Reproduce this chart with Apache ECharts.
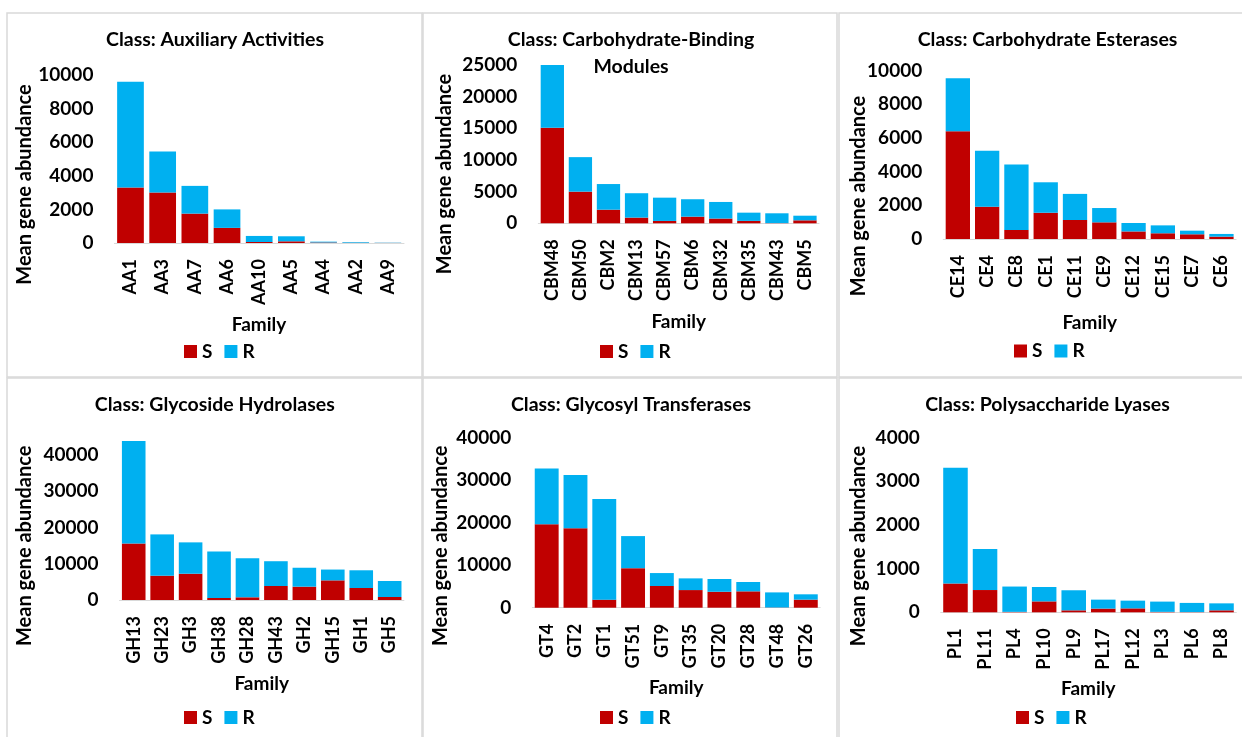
<!DOCTYPE html>
<html><head><meta charset="utf-8">
<script src="https://cdn.jsdelivr.net/npm/echarts@6/dist/echarts.min.js"></script>
<style>html,body{margin:0;padding:0;background:#fff}#c{width:1242px;height:737px}</style>
</head><body><div id="c"></div>
<script>
// ---- Data ----
const aaCats = ['AA1','AA3','AA7','AA6','AA10','AA5','AA4','AA2','AA9'];
const aaS = [3300, 3000, 1750, 900, 60, 100, 30, 10, 5];
const aaR = [6300, 2450, 1650, 1100, 360, 300, 50, 40, 15];

const cbmCats = ['CBM48','CBM50','CBM2','CBM13','CBM57','CBM6','CBM32','CBM35','CBM43','CBM5'];
const cbmS = [15100, 5000, 2150, 900, 370, 1050, 750, 380, 30, 470];
const cbmR = [9900, 5450, 4050, 3850, 3680, 2750, 2620, 1300, 1550, 730];

const ceCats = ['CE14','CE4','CE8','CE1','CE11','CE9','CE12','CE15','CE7','CE6'];
const ceS = [6400, 1920, 540, 1560, 1130, 990, 450, 340, 280, 140];
const ceR = [3150, 3330, 3880, 1810, 1550, 850, 500, 470, 215, 160];

const ghCats = ['GH13','GH23','GH3','GH38','GH28','GH43','GH2','GH15','GH1','GH5'];
const ghS = [15600, 6700, 7250, 550, 740, 3860, 3680, 5420, 3310, 830];
const ghR = [28300, 11400, 8650, 12850, 10760, 6840, 5220, 2980, 4890, 4420];

const gtCats = ['GT4','GT2','GT1','GT51','GT9','GT35','GT20','GT28','GT48','GT26'];
const gtS = [19650, 18700, 1900, 9300, 5100, 4150, 3750, 3850, 50, 1900];
const gtR = [13100, 12500, 23650, 7550, 3050, 2750, 3000, 2200, 3550, 1250];

const plCats = ['PL1','PL11','PL4','PL10','PL9','PL17','PL12','PL3','PL6','PL8'];
const plS = [660, 510, 10, 250, 45, 85, 90, 10, 5, 45];
const plR = [2650, 940, 580, 330, 460, 205, 177, 235, 210, 160];

const titles = ['Class: Auxiliary Activities', 'Class: Carbohydrate-Binding\nModules', 'Class: Carbohydrate Esterases',
  'Class: Glycoside Hydrolases', 'Class: Glycosyl Transferases', 'Class: Polysaccharide Lyases'];
const yMax = [10000, 25000, 10000, 45000, 40000, 4000];
const yStep = [2000, 5000, 2000, 10000, 10000, 1000];
const seriesNames = ['S', 'R'];
const xTitle = 'Family';
const yTitle = 'Mean gene abundance';

// ---- Layout ----
const FONT = 'Lato, "Open Sans", sans-serif';
const C_S = '#C00000', C_R = '#00B0F0';
const panels = [
  {cats: aaCats, S: aaS, R: aaR, g: {left: 114.4, width: 289.6, top: 75, height: 168},
   title: [215, 39.5], ytitle: [25, 184.5], family: [259, 325], legend: [184, 342]},
  {cats: cbmCats, S: cbmS, R: cbmR, g: {left: 538.3, width: 280.7, top: 65, height: 158.3},
   title: [631, 53], ytitle: [445, 174], family: [678.7, 321.7], legend: [600, 342]},
  {cats: ceCats, S: ceS, R: ceR, g: {left: 943.2, width: 292.9, top: 70.7, height: 168.3},
   title: [1047.5, 39.5], ytitle: [858.3, 196], family: [1089.7, 322.7], legend: [1014, 341.5]},
  {cats: ghCats, S: ghS, R: ghR, g: {left: 119.5, width: 284.4, top: 436.9, height: 163.1},
   title: [214.8, 405], ytitle: [25, 545.8], family: [261.7, 684.3], legend: [184, 708]},
  {cats: gtCats, S: gtS, R: gtR, g: {left: 532.3, width: 287.9, top: 437.7, height: 170},
   title: [631, 405], ytitle: [440.7, 545.8], family: [676.2, 687.7], legend: [600, 708]},
  {cats: plCats, S: plS, R: plR, g: {left: 940.7, width: 295.6, top: 437.7, height: 174.6},
   title: [1047.5, 405], ytitle: [858.3, 546], family: [1088.3, 689.3], legend: [1016, 708]}
];
const boxes = [
  [7, 13, 415, 364], [423, 13, 414, 364], [839, 13, 410, 364],
  [7, 378, 415, 370], [423, 378, 414, 370], [839, 378, 410, 370]
];

const grid = [], xAxis = [], yAxis = [], series = [], legend = [], graphic = [];
boxes.forEach(b => graphic.push({type: 'rect', z: 0, silent: true,
  shape: {x: b[0], y: b[1], width: b[2], height: b[3]},
  style: {fill: 'none', stroke: '#d9d9d9', lineWidth: 1.5}}));

panels.forEach((p, i) => {
  grid.push(Object.assign({containLabel: false}, p.g));
  xAxis.push({type: 'category', gridIndex: i, data: p.cats,
    axisLine: {show: true, lineStyle: {color: '#d9d9d9', width: 1}},
    axisTick: {show: false},
    axisLabel: {rotate: 90, margin: 16, color: '#000', fontFamily: FONT, fontWeight: 'bold', fontSize: 18, interval: 0}});
  yAxis.push({type: 'value', gridIndex: i, min: 0, max: yMax[i], interval: yStep[i],
    axisLine: {show: false}, axisTick: {show: false}, splitLine: {show: false},
    axisLabel: {margin: 21, color: '#000', fontFamily: FONT, fontWeight: 'bold', fontSize: 19,
      formatter: v => (v % yStep[i] === 0 ? String(v) : '')}});
  series.push({name: seriesNames[0], type: 'bar', stack: 's' + i, xAxisIndex: i, yAxisIndex: i,
    data: p.S, barCategoryGap: '17%', itemStyle: {color: C_S}});
  series.push({name: seriesNames[1], type: 'bar', stack: 's' + i, xAxisIndex: i, yAxisIndex: i,
    data: p.R, barCategoryGap: '17%', itemStyle: {color: C_R}});
  legend.push({data: seriesNames, left: p.legend[0], top: p.legend[1], padding: 0,
    itemWidth: 13, itemHeight: 13, itemGap: 12, icon: 'rect', selectedMode: false,
    textStyle: {color: '#000', fontFamily: FONT, fontWeight: 'bold', fontSize: 19}});
  graphic.push({type: 'text', x: p.title[0], y: p.title[1], silent: true,
    style: {text: titles[i], fill: '#000', font: 'bold 19.5px ' + FONT, align: 'center', verticalAlign: 'middle', lineHeight: 27}});
  graphic.push({type: 'text', x: p.ytitle[0], y: p.ytitle[1], rotation: Math.PI / 2, silent: true,
    style: {text: yTitle, fill: '#000', font: 'bold 20px ' + FONT, align: 'center', verticalAlign: 'middle'}});
  graphic.push({type: 'text', x: p.family[0], y: p.family[1], silent: true,
    style: {text: xTitle, fill: '#000', font: 'bold 19px ' + FONT, align: 'center', verticalAlign: 'middle'}});
});

const chart = echarts.init(document.getElementById('c'), null, {renderer: 'canvas'});
chart.setOption({animation: false, backgroundColor: '#fff', grid, xAxis, yAxis, series, legend, graphic});
</script></body></html>
